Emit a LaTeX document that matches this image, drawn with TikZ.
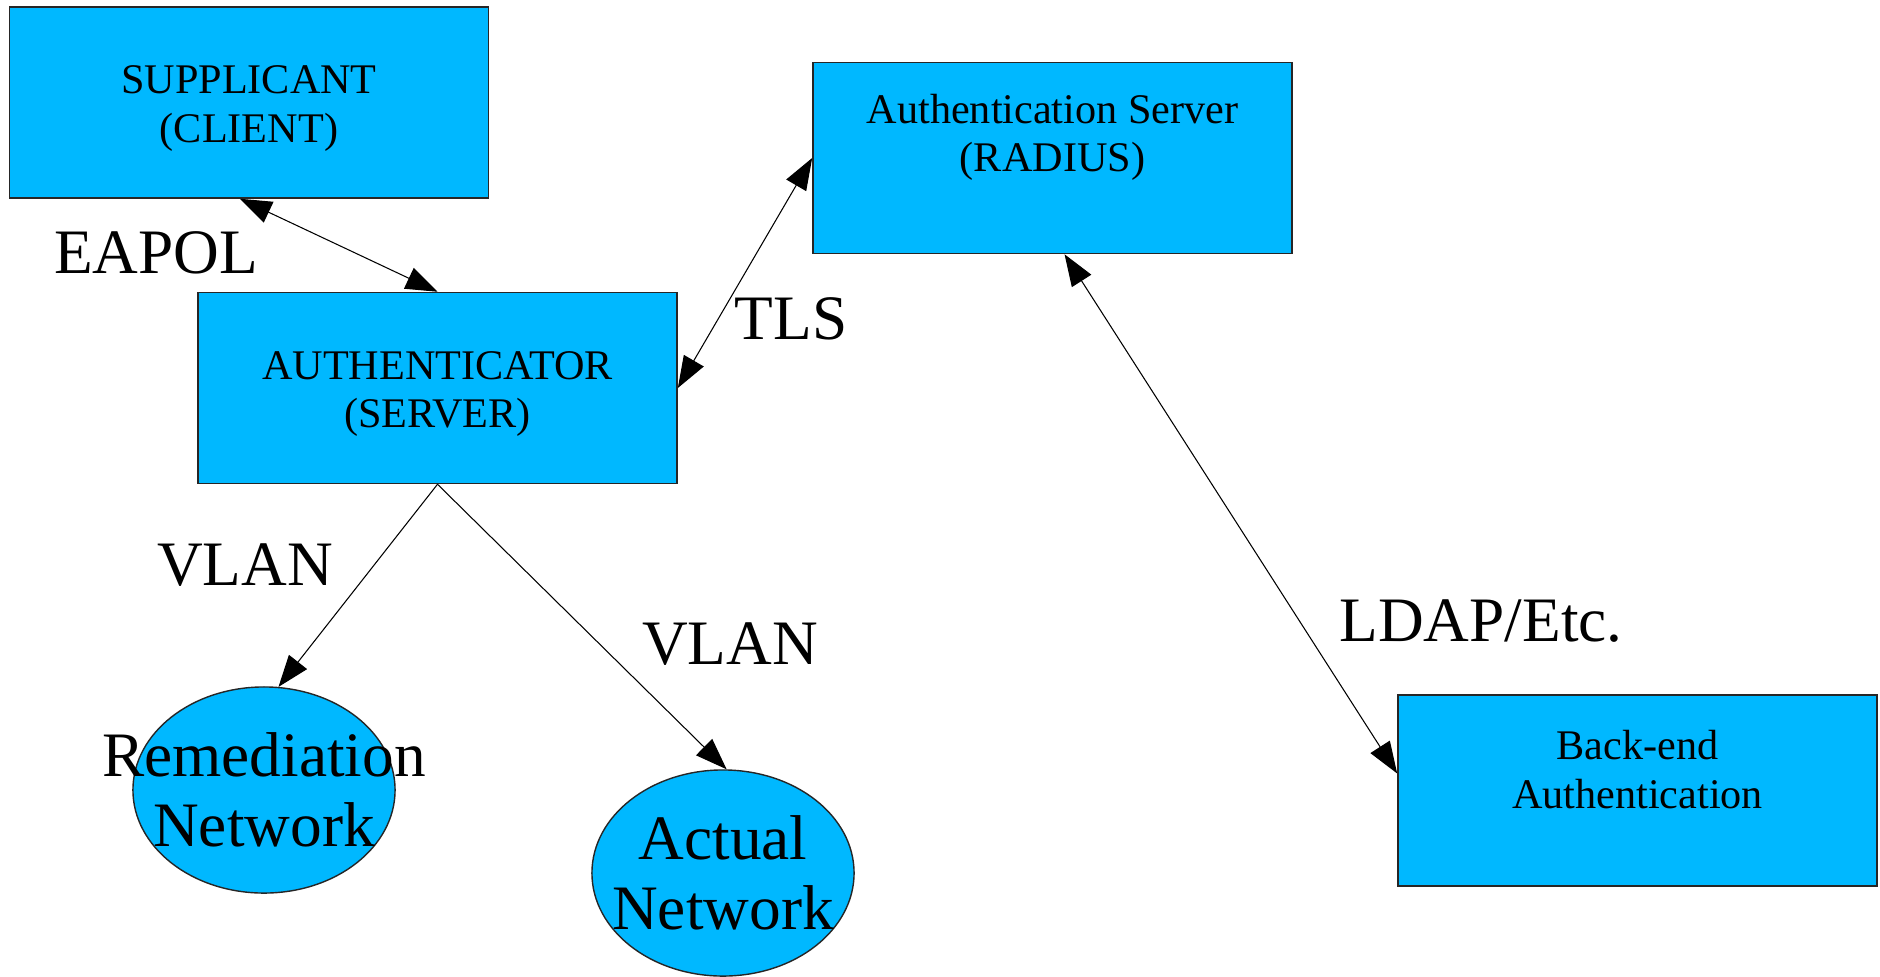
\documentclass[tikz,border=0pt]{standalone}
\usepackage{fontspec}
\setmainfont{Liberation Serif}
\usetikzlibrary{shapes.geometric,arrows.meta}

\definecolor{boxblue}{RGB}{0,184,255}

\begin{document}
\begin{tikzpicture}[
x=0.01cm, y=-0.01cm,
boxnode/.style={rectangle, draw=black!85, line width=0.4pt, fill=boxblue, minimum width=4.79cm, minimum height=1.91cm, inner sep=0pt},
boxtext/.style={align=center, inner sep=0pt, yshift=-0.06cm, font=\fontsize{12}{13.7}\selectfont},
netnode/.style={ellipse, draw=black!85, line width=0.4pt, fill=boxblue, minimum width=2.62cm, minimum height=2.06cm, inner sep=0pt},
nettext/.style={align=center, inner sep=0pt, font=\fontsize{18}{20}\selectfont},
linklabel/.style={anchor=base, inner sep=0pt, font=\fontsize{18}{20}\selectfont},
link/.style={line width=0.3pt, >={Triangle[length=9pt,width=6.5pt]}},
]
\useasboundingbox (0,0) rectangle (1880,976);

% Boxes
\node[boxnode] (supp) at (249,102.5) {};
\node[boxtext] at (supp.center) {SUPPLICANT\\(CLIENT)};
\node[boxnode] (rad) at (1052.5,158) {};
\node[boxtext] at ([yshift=0.27cm]rad.center) {Authentication Server\\(RADIUS)};
\node[boxnode] (authr) at (437.5,388) {};
\node[boxtext] at (authr.center) {AUTHENTICATOR\\(SERVER)};
\node[boxnode] (be) at (1637.5,790.5) {};
\node[boxtext] at ([yshift=0.27cm]be.center) {Back-end\\Authentication};

% Networks
\node[netnode] (rem) at (264,790) {};
\node[nettext] at (rem.center) {Remediation\\Network};
\node[netnode] (act) at (723,873) {};
\node[nettext] at (act.center) {Actual\\Network};

% Link labels
\node[linklabel] (eapol) at (156,273) {EAPOL};
\node[linklabel] (tls) at (791,339) {TLS};
\node[linklabel] (vlanrem) at (245,585) {VLAN};
\node[linklabel] (vlanact) at (730,664) {VLAN};
\node[linklabel] (ldap) at (1481,641) {LDAP/Etc.};

% Arrows
\draw[link,<->] ([xshift=-0.09cm]supp.south) -- (authr.north);
\draw[link,<->] (authr.east) -- (rad.west);
\draw[link,<->] ([xshift=0.12cm]rad.south) -- ([yshift=0.17cm]be.west);
\draw[link,->] (authr.south) -- (rem.82);
\draw[link,->] (authr.south) -- (act.88);

\end{tikzpicture}
\end{document}
